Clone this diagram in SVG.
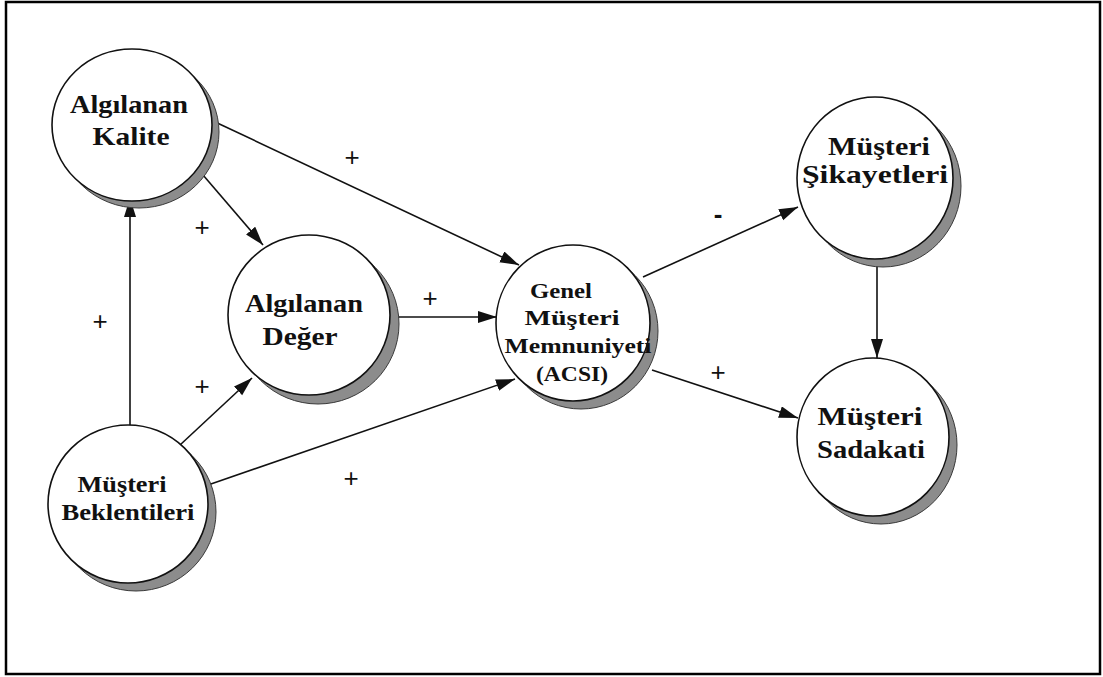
<svg xmlns="http://www.w3.org/2000/svg" width="1103" height="677" viewBox="0 0 1103 677">
<defs>
<style>
.frame{fill:#fff;stroke:#000;stroke-width:2.5}
.sh{fill:#8c8c8c;stroke:#3a3a3a;stroke-width:1}
.nd{fill:#fff;stroke:#111;stroke-width:1.6}
.t{font-family:"Liberation Serif","Times New Roman",serif;font-weight:bold;fill:#111;text-anchor:middle}
.e{stroke:#111;stroke-width:1.6;fill:none;marker-end:url(#ah)}
.lb{font-family:"Liberation Sans",Arial,sans-serif;font-size:26px;fill:#111;text-anchor:middle}
</style>
<marker id="ah" markerUnits="userSpaceOnUse" markerWidth="20" markerHeight="14" refX="19" refY="6" orient="auto">
<path d="M0,0 L19,6 L0,12 z" fill="#111"/>
</marker>
</defs>
<rect class="frame" x="6" y="2" width="1094" height="672"/>

<g id="connectors">
<line class="e" x1="213" y1="121" x2="519" y2="265"/>
<line class="e" x1="197" y1="168" x2="263" y2="245"/>
<line class="e" x1="130" y1="425" x2="130" y2="198"/>
<line class="e" x1="180" y1="445" x2="252" y2="378"/>
<line class="e" x1="208" y1="485" x2="515" y2="379"/>
<line class="e" x1="390" y1="317" x2="497" y2="317"/>
<line class="e" x1="643" y1="277" x2="798" y2="207"/>
<line class="e" x1="652" y1="370" x2="798" y2="418"/>
<line class="e" x1="877" y1="260" x2="877" y2="358"/>
</g>

<g id="labels">
<text class="lb" x="352" y="166">+</text>
<text class="lb" x="202" y="236">+</text>
<text class="lb" x="100" y="330">+</text>
<text class="lb" x="430" y="307">+</text>
<text class="lb" x="202" y="395">+</text>
<text class="lb" x="351" y="487">+</text>
<text class="lb" x="718" y="381">+</text>
<text class="lb" x="718" y="223" style="font-weight:bold">-</text>
</g>

<g id="n-kalite">
<ellipse class="sh" cx="139" cy="132" rx="80" ry="76"/>
<ellipse class="nd" cx="132" cy="125" rx="80" ry="76"/>
<text class="t" x="129" y="113" font-size="26" textLength="118" lengthAdjust="spacingAndGlyphs">Algılanan</text>
<text class="t" x="131" y="145" font-size="26" textLength="77" lengthAdjust="spacingAndGlyphs">Kalite</text>
</g>

<g id="n-deger">
<ellipse class="sh" cx="318" cy="324" rx="81" ry="80"/>
<ellipse class="nd" cx="309" cy="315" rx="81" ry="80"/>
<text class="t" x="304" y="312" font-size="26" textLength="118" lengthAdjust="spacingAndGlyphs">Algılanan</text>
<text class="t" x="300" y="345" font-size="26" textLength="75" lengthAdjust="spacingAndGlyphs">Değer</text>
</g>

<g id="n-genel">
<ellipse class="sh" cx="581" cy="331" rx="77" ry="78"/>
<ellipse class="nd" cx="573" cy="323" rx="77" ry="78"/>
<text class="t" x="561" y="298" font-size="21" textLength="62" lengthAdjust="spacingAndGlyphs">Genel</text>
<text class="t" x="572" y="325" font-size="21" textLength="95" lengthAdjust="spacingAndGlyphs">Müşteri</text>
<text class="t" x="578" y="353" font-size="21" textLength="147" lengthAdjust="spacingAndGlyphs">Memnuniyeti</text>
<text class="t" x="572" y="381" font-size="21" textLength="72" lengthAdjust="spacingAndGlyphs">(ACSI)</text>
</g>

<g id="n-beklenti">
<ellipse class="sh" cx="136" cy="512" rx="80" ry="79"/>
<ellipse class="nd" cx="128" cy="504" rx="80" ry="79"/>
<text class="t" x="122" y="492" font-size="24" textLength="89" lengthAdjust="spacingAndGlyphs">Müşteri</text>
<text class="t" x="128" y="520" font-size="24" textLength="133" lengthAdjust="spacingAndGlyphs">Beklentileri</text>
</g>

<g id="n-sikayet">
<ellipse class="sh" cx="883" cy="186" rx="78" ry="81"/>
<ellipse class="nd" cx="875" cy="178" rx="78" ry="81"/>
<text class="t" x="879" y="155" font-size="26" textLength="102" lengthAdjust="spacingAndGlyphs">Müşteri</text>
<text class="t" x="875" y="183" font-size="26" textLength="146" lengthAdjust="spacingAndGlyphs">Şikayetleri</text>
</g>

<g id="n-sadakat">
<ellipse class="sh" cx="881" cy="445" rx="76" ry="79"/>
<ellipse class="nd" cx="873" cy="437" rx="76" ry="79"/>
<text class="t" x="870" y="425" font-size="26" textLength="105" lengthAdjust="spacingAndGlyphs">Müşteri</text>
<text class="t" x="871" y="458" font-size="26" textLength="108" lengthAdjust="spacingAndGlyphs">Sadakati</text>
</g>
</svg>
